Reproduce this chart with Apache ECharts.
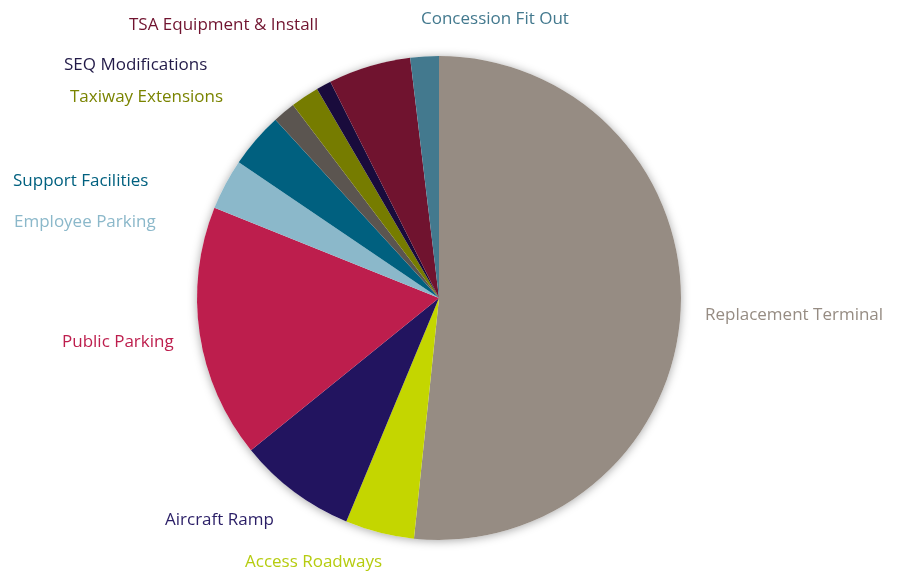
<!DOCTYPE html>
<html>
<head>
<meta charset="utf-8">
<script src="https://cdn.jsdelivr.net/npm/echarts@6/dist/echarts.min.js"></script>
<style>html,body{margin:0;padding:0;background:#fff}#chart{width:903px;height:573px}</style>
</head>
<body>
<div id="chart"></div>
<script>
// Data (share of total, %)
const categories = ["Replacement Terminal","Access Roadways","Aircraft Ramp","Public Parking","Employee Parking","Support Facilities","Other","Taxiway Extensions","SEQ Modifications","TSA Equipment & Install","Concession Fit Out"];
const values = [51.6, 4.6, 7.9, 16.9, 3.4, 3.7, 1.5, 1.9, 1.0, 5.5, 1.9];
const showLabel = [true, true, true, true, true, true, false, true, true, true, true];

// Styles
const sliceColors = ["#968C83","#C4D600","#22145F","#BD1E4D","#8BB8CA","#00607F","#5B5550","#767C00","#190B3C","#70132F","#43798E"];
const labelColors = ["#968C83","#B6CC10","#2A1E66","#BD1E4D","#8BB8CA","#00607F","#5B5550","#7A8400","#221A48","#70132F","#43798E"];
// label anchor (left x, middle y) in px
const labelPos = [[705,315],[245,562],[165,520],[62,342],[14,222],[13,181],[0,0],[70,97],[64,65],[129,25],[421,19]];

const chart = echarts.init(document.getElementById('chart'));
const data = categories.map((c, i) => ({
  name: c, value: values[i],
  itemStyle: { color: sliceColors[i] },
  label: { show: showLabel[i], color: labelColors[i] }
}));
chart.setOption({
  animation: false,
  series: [
    {
      type: 'pie', silent: true, center: [439, 298], radius: 242, z: 1,
      label: { show: false }, labelLine: { show: false },
      data: [{ value: 1, itemStyle: { color: '#ffffff', shadowBlur: 10, shadowColor: 'rgba(0,0,0,0.35)', shadowOffsetX: 0, shadowOffsetY: 1 } }]
    },
    {
      type: 'pie', center: [439, 298], radius: 242, startAngle: 90, clockwise: true, z: 2,
      avoidLabelOverlap: false,
      itemStyle: { borderWidth: 0 },
      label: { position: 'outside', fontFamily: 'Open Sans', fontSize: 17, formatter: '{b}' },
      labelLine: { show: false },
      labelLayout: function (p) {
        const pos = labelPos[p.dataIndex];
        return { x: pos[0], y: pos[1], align: 'left', verticalAlign: 'middle', hideOverlap: false };
      },
      data: data
    }
  ]
});
</script>
</body>
</html>
